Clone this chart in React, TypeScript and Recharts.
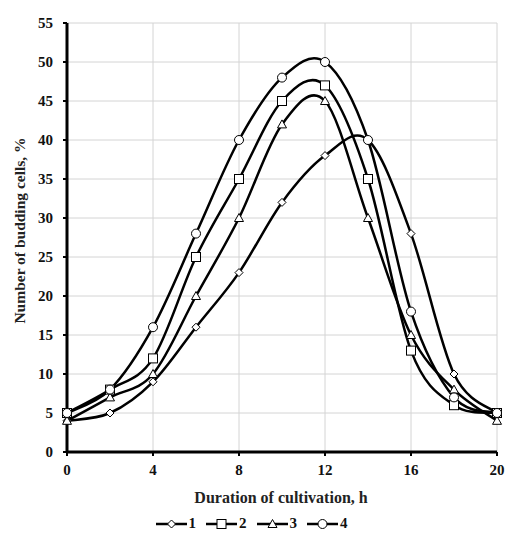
import React from 'react';
import { LineChart, Line, XAxis, YAxis, CartesianGrid } from 'recharts';

const hours = [0, 2, 4, 6, 8, 10, 12, 14, 16, 18, 20];
const series1 = [4, 5, 9, 16, 23, 32, 38, 40, 28, 10, 5];
const series2 = [5, 8, 12, 25, 35, 45, 47, 35, 13, 6, 5];
const series3 = [4, 7, 10, 20, 30, 42, 45, 30, 15, 8, 4];
const series4 = [5, 8, 16, 28, 40, 48, 50, 40, 18, 7, 5];
const xTicks = [0, 4, 8, 12, 16, 20];
const yTicks = [0, 5, 10, 15, 20, 25, 30, 35, 40, 45, 50, 55];
const legendNames = ['1', '2', '3', '4'];

const data = hours.map((h, i) => ({
  h,
  s1: series1[i],
  s2: series2[i],
  s3: series3[i],
  s4: series4[i],
}));

const FONT = 'Liberation Serif';

// smoothed line like the spreadsheet one (catmull-rom through the points)
const smoothCurve: any = (context: any) => {
  let pts: number[][] = [];
  return {
    areaStart() {},
    areaEnd() {},
    lineStart() {
      pts = [];
    },
    point(x: number, y: number) {
      pts.push([+x, +y]);
    },
    lineEnd() {
      if (!pts.length) return;
      context.moveTo(pts[0][0], pts[0][1]);
      for (let i = 0; i < pts.length - 1; i++) {
        const p0 = pts[i - 1] || pts[i];
        const p1 = pts[i];
        const p2 = pts[i + 1];
        const p3 = pts[i + 2] || p2;
        context.bezierCurveTo(
          p1[0] + (p2[0] - p0[0]) / 6,
          p1[1] + (p2[1] - p0[1]) / 6,
          p2[0] - (p3[0] - p1[0]) / 6,
          p2[1] - (p3[1] - p1[1]) / 6,
          p2[0],
          p2[1]
        );
      }
    },
  };
};

const Marker = ({ cx, cy, kind }: { cx: number; cy: number; kind: number }) => {
  const common = { fill: '#fff', stroke: '#000', strokeWidth: 1 };
  if (kind === 0)
    return <polygon points={`${cx},${cy - 4} ${cx + 4},${cy} ${cx},${cy + 4} ${cx - 4},${cy}`} {...common} />;
  if (kind === 1) return <rect x={cx - 4.5} y={cy - 4.5} width={9} height={9} {...common} />;
  if (kind === 2)
    return <polygon points={`${cx},${cy - 4.5} ${cx + 4.5},${cy + 3.5} ${cx - 4.5},${cy + 3.5}`} {...common} />;
  return <circle cx={cx} cy={cy} r={4.5} {...common} />;
};

const dotFor = (kind: number) => (props: any) =>
  <Marker key={`${kind}-${props.index}`} cx={props.cx} cy={props.cy} kind={kind} />;

// tick text drawn by hand so the serif font sticks
const AxisTick = ({ x, y, payload, textAnchor, dy }: any) => (
  <text
    x={x}
    y={y}
    dy={dy}
    textAnchor={textAnchor}
    fontSize={15}
    fontWeight="bold"
    fontFamily={FONT}
    fill="#111"
  >
    {payload.value}
  </text>
);

const XTick = (props: any) => <AxisTick {...props} textAnchor="middle" dy="0.75em" />;
const YTick = (props: any) => <AxisTick {...props} textAnchor="end" dy="0.35em" />;

const App = () => {
  const keys = ['s1', 's2', 's3', 's4'];
  return (
    <div style={{ position: 'absolute', left: 0, top: 0, width: 509, fontFamily: FONT }}>
      <LineChart
        width={509}
        height={514}
        data={data}
        margin={{ top: 23, right: 12, bottom: 6, left: 8 }}
        style={{ fontFamily: FONT }}
      >
        <CartesianGrid stroke="#d4d4d4" strokeWidth={1} />
        <XAxis
          type="number"
          dataKey="h"
          domain={[0, 20]}
          ticks={xTicks}
          height={56}
          axisLine={{ stroke: '#000', strokeWidth: 3 }}
          tickLine={{ stroke: '#000', strokeWidth: 2 }}
          tickSize={4}
          tickMargin={8}
          tick={<XTick />}
          label={({ viewBox }: any) => (
            <text
              x={viewBox.x + viewBox.width / 2 - 1}
              y={viewBox.y + 51}
              textAnchor="middle"
              fontSize={16}
              fontWeight="bold"
              fontFamily={FONT}
              fill="#222"
            >
              Duration of cultivation, h
            </text>
          )}
        />
        <YAxis
          domain={[0, 55]}
          ticks={yTicks}
          width={59}
          interval={0}
          axisLine={{ stroke: '#000', strokeWidth: 3 }}
          tickLine={{ stroke: '#000', strokeWidth: 2 }}
          tickSize={4}
          tickMargin={10}
          tick={<YTick />}
          label={({ viewBox }: any) => {
            const cy = viewBox.y + viewBox.height / 2 - 7;
            return (
              <text
                x={19}
                y={cy}
                transform={`rotate(-90, 19, ${cy})`}
                textAnchor="middle"
                dominantBaseline="central"
                fontSize={15.5}
                fontWeight="bold"
                fontFamily={FONT}
                fill="#222"
              >
                Number of budding cells, %
              </text>
            );
          }}
        />
        {keys.map((k, i) => (
          <Line
            key={k}
            dataKey={k}
            type={smoothCurve}
            stroke="#000"
            strokeWidth={2.5}
            dot={dotFor(i)}
            activeDot={false}
            isAnimationActive={false}
          />
        ))}
      </LineChart>
      <div style={{ display: 'flex', justifyContent: 'center', gap: 10, marginTop: 1, paddingRight: 6 }}>
        {legendNames.map((name, i) => (
          <div key={name} style={{ display: 'flex', alignItems: 'center' }}>
            <svg width={31} height={12}>
              <line x1={0} y1={6} x2={31} y2={6} stroke="#000" strokeWidth={2.5} />
              <Marker cx={15.5} cy={6} kind={i} />
            </svg>
            <span style={{ fontSize: 15, fontWeight: 'bold', marginLeft: 2, color: '#111' }}>{name}</span>
          </div>
        ))}
      </div>
    </div>
  );
};

export default App;
